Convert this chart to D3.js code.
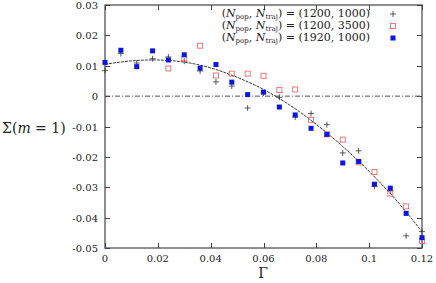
<!DOCTYPE html>
<html>
<head>
<meta charset="utf-8">
<script src="https://cdn.jsdelivr.net/npm/d3@7"></script>
<style>
  body { margin: 0; background: #fff; }
  text { font-family: "DejaVu Serif", serif; }
</style>
</head>
<body>
<svg id="chart" width="436" height="283"></svg>
<script>
// Gamma values shared by all series
const gammas = [0, 0.006, 0.012, 0.018, 0.024, 0.030, 0.036, 0.042, 0.048, 0.054, 0.060,
  0.066, 0.072, 0.078, 0.084, 0.090, 0.096, 0.102, 0.108, 0.114, 0.120];

// (1200, 1000) — plus markers
const plusVals = [0.0084, 0.0140, 0.0109, 0.0123, 0.0129, 0.0115, 0.0083, 0.0047, 0.0033, -0.0039, 0.0010,
  -0.0004, -0.0069, -0.0057, -0.0094, -0.0187, -0.0180, -0.0297, -0.0310, -0.0460, -0.0446];

// (1200, 3500) — open squares (first points hidden under the blue ones)
const redGammas = gammas.slice(4);
const redVals = [0.0091, 0.0123, 0.0166, 0.0068, 0.0074, 0.0074, 0.0067,
  0.0020, 0.0022, -0.0078, -0.0126, -0.0143, -0.0218, -0.0250, -0.0321, -0.0363, -0.0477];

// (1920, 1000) — filled squares
const blueVals = [0.0111, 0.0151, 0.0097, 0.0149, 0.0119, 0.0136, 0.0092, 0.0104, 0.0046, 0.0005, 0.0013,
  -0.0036, -0.0062, -0.0106, -0.0126, -0.0220, -0.0215, -0.0290, -0.0303, -0.0386, -0.0466];

// fit curve
const fitG = [0, 0.01, 0.02, 0.03, 0.04, 0.05, 0.06, 0.07, 0.08, 0.09, 0.10, 0.11, 0.12];
const fitV = [0.0105, 0.0116, 0.0119, 0.0112, 0.0093, 0.0062, 0.0022, -0.0030, -0.0093, -0.0166, -0.0248, -0.0340, -0.0446];

const xTicks = [0, 0.02, 0.04, 0.06, 0.08, 0.1, 0.12];
const yTicks = [0.03, 0.02, 0.01, 0, -0.01, -0.02, -0.03, -0.04, -0.05];

const legendLabels = ['(1200, 1000)', '(1200, 3500)', '(1920, 1000)'];

const svg = d3.select('#chart');
const x = d3.scaleLinear().domain([0, 0.12]).range([105, 422]);
const y = d3.scaleLinear().domain([-0.05, 0.03]).range([248, 5]);

const frame = '#444';
const tickLen = 5;

// ticks (inward on all sides)
const tickG = svg.append('g').attr('stroke', frame).attr('stroke-width', 1);
xTicks.forEach(t => {
  const px = Math.round(x(t)) + 0.5;
  tickG.append('line').attr('x1', px).attr('x2', px).attr('y1', y(-0.05)).attr('y2', y(-0.05) - tickLen);
  tickG.append('line').attr('x1', px).attr('x2', px).attr('y1', y(0.03)).attr('y2', y(0.03) + tickLen);
});
yTicks.forEach(t => {
  const py = Math.round(y(t)) + 0.5;
  tickG.append('line').attr('x1', x(0)).attr('x2', x(0) + tickLen).attr('y1', py).attr('y2', py);
  tickG.append('line').attr('x1', x(0.12)).attr('x2', x(0.12) - tickLen).attr('y1', py).attr('y2', py);
});

// frame
svg.append('rect')
  .attr('x', x(0)).attr('y', y(0.03))
  .attr('width', x(0.12) - x(0)).attr('height', y(-0.05) - y(0.03))
  .attr('fill', 'none').attr('stroke', frame).attr('stroke-width', 1.2);

// tick labels
svg.append('g').selectAll('text').data(yTicks).enter().append('text')
  .attr('x', 98).attr('y', d => y(d) + 4)
  .attr('text-anchor', 'end').attr('font-size', 10).attr('fill', '#222')
  .text(d => d === 0 ? '0' : d3.format('.2f')(d).replace('−', '-'));

svg.append('g').selectAll('text').data(xTicks).enter().append('text')
  .attr('x', d => x(d)).attr('y', 262)
  .attr('text-anchor', 'middle').attr('font-size', 10).attr('fill', '#222')
  .text(d => d === 0 ? '0' : String(d));

// axis titles
svg.append('text').attr('x', 263).attr('y', 278).attr('text-anchor', 'middle')
  .attr('font-size', 14).attr('fill', '#222').text('Γ');

const yl = svg.append('text').attr('x', 2).attr('y', 133).attr('font-size', 14).attr('fill', '#222');
yl.append('tspan').text('Σ(');
yl.append('tspan').attr('font-style', 'italic').text('m');
yl.append('tspan').text(' = 1)');

// zero line (dash-dot)
svg.append('line')
  .attr('x1', x(0)).attr('x2', x(0.12)).attr('y1', y(0)).attr('y2', y(0))
  .attr('stroke', '#555').attr('stroke-width', 1).attr('stroke-dasharray', '5,2,1,2');

// fit curve
const fitData = fitG.map((g, i) => [g, fitV[i]]);
svg.append('path')
  .datum(fitData)
  .attr('fill', 'none').attr('stroke', '#222').attr('stroke-width', 0.9)
  .attr('stroke-dasharray', '3,1')
  .attr('d', d3.line().x(d => x(d[0])).y(d => y(d[1])).curve(d3.curveCatmullRom));

// markers
const sq = 5;
const plusPath = (cx, cy) => `M${cx - 3},${cy}H${cx + 3}M${cx},${cy - 3}V${cy + 3}`;

function drawPlus(g, cx, cy) {
  g.append('path').attr('d', plusPath(cx, cy)).attr('stroke', '#333').attr('stroke-width', 0.8).attr('fill', 'none');
}
function drawOpen(g, cx, cy) {
  g.append('rect').attr('x', cx - sq / 2).attr('y', cy - sq / 2).attr('width', sq).attr('height', sq)
    .attr('fill', 'none').attr('stroke', '#f06868').attr('stroke-width', 0.9);
}
function drawFilled(g, cx, cy) {
  g.append('rect').attr('x', cx - sq / 2).attr('y', cy - sq / 2).attr('width', sq).attr('height', sq)
    .attr('fill', '#0a14f0');
}

const pts = svg.append('g');
gammas.forEach((g, i) => drawPlus(pts, x(g), y(plusVals[i])));
redGammas.forEach((g, i) => drawOpen(pts, x(g), y(redVals[i])));
gammas.forEach((g, i) => drawFilled(pts, x(g), y(blueVals[i])));

// legend
const drawers = [drawPlus, drawOpen, drawFilled];
const legend = svg.append('g').attr('font-size', 11).attr('fill', '#222');
legendLabels.forEach((lab, i) => {
  const ly = 14 + i * 12;
  const t = legend.append('text').attr('x', 370).attr('y', ly + 3).attr('text-anchor', 'end');
  t.append('tspan').text('(');
  t.append('tspan').attr('font-style', 'italic').text('N');
  t.append('tspan').attr('font-size', 7).attr('dy', 2).text('pop');
  t.append('tspan').attr('dy', -2).text(', ');
  t.append('tspan').attr('font-style', 'italic').text('N');
  t.append('tspan').attr('font-size', 7).attr('dy', 2).text('traj');
  t.append('tspan').attr('dy', -2).text(') = ' + lab);
  drawers[i](legend, 393, ly);
});
</script>
</body>
</html>
